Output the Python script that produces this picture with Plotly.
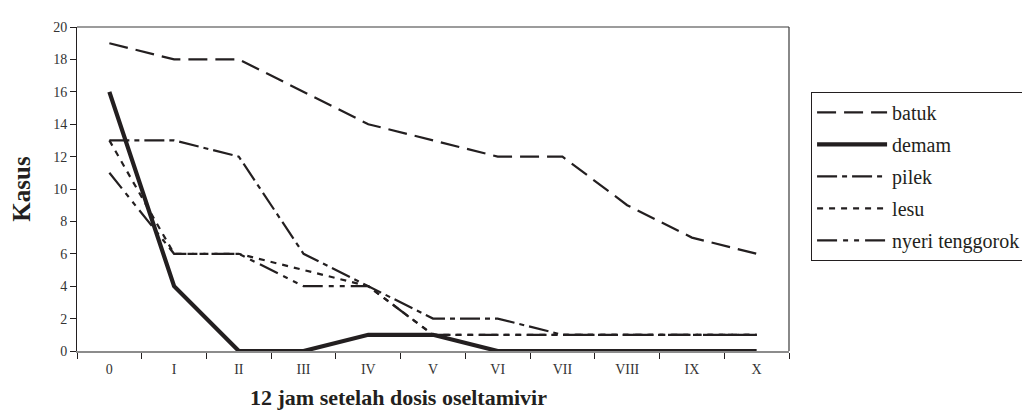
import plotly.graph_objects as go

categories = ["0", "I", "II", "III", "IV", "V", "VI", "VII", "VIII", "IX", "X"]
batuk = [19, 18, 18, 16, 14, 13, 12, 12, 9, 7, 6]
demam = [16, 4, 0, 0, 1, 1, 0, 0, 0, 0, 0]
pilek = [13, 13, 12, 6, 4, 2, 2, 1, 1, 1, 1]
lesu = [13, 6, 6, 5, 4, 1, 1, 1, 1, 1, 1]
nyeri = [11, 6, 6, 4, 4, 1, 1, 1, 1, 1, 1]

INK = "#231f20"
FONT = "Liberation Serif"

series = [
    ("batuk", batuk, dict(width=2.2, dash="19px,8px")),
    ("demam", demam, dict(width=4.2, dash="solid")),
    ("pilek", pilek, dict(width=2.2, dash="20px,5px,5px,5px")),
    ("lesu", lesu, dict(width=2.2, dash="6px,6px")),
    ("nyeri tenggorok", nyeri, dict(width=2.2, dash="20px,6px,5px,6px,5px,6px")),
]

fig = go.Figure()
for name, vals, style in series:
    fig.add_trace(go.Scatter(
        x=categories, y=vals, name=name, mode="lines",
        legendgroup=name,
        line=dict(color=INK, **style),
        hoverinfo="skip",
    ))

fig.update_layout(
    width=1030, height=414,
    margin=dict(l=67, r=248, t=18, b=71),
    paper_bgcolor="white", plot_bgcolor="white",
    font=dict(family=FONT, color=INK, size=14),
    showlegend=True,
    legend=dict(
        x=1.031, xanchor="left", y=0.80, yanchor="top",
        bordercolor=INK, borderwidth=1, bgcolor="white",
        font=dict(family=FONT, size=20, color=INK),
        itemwidth=70, tracegroupgap=3,
    ),
    xaxis=dict(
        type="category", range=[-0.5, 10.5],
        showline=True, linecolor="#8c8c8c", linewidth=1.5,
        ticks="outside", tickson="boundaries", ticklen=6, tickcolor=INK, tickwidth=1,
        showgrid=False, zeroline=False,
        tickfont=dict(family=FONT, size=14, color="#333333"),
        ticklabelstandoff=4,
    ),
    yaxis=dict(
        range=[0, 20], dtick=2,
        showline=True, linecolor=INK, linewidth=1,
        ticks="outside", ticklen=6, tickcolor=INK, tickwidth=1,
        showgrid=False, zeroline=False,
        tickfont=dict(family=FONT, size=14, color="#333333"),
        title=dict(text="<b>Kasus</b>",
                   font=dict(family=FONT, size=25, color=INK), standoff=16),
    ),
    annotations=[
        dict(text="<b>12 jam setelah dosis oseltamivir</b>",
             xref="paper", yref="paper", x=(390 - 67) / 715, y=-(390 - 343) / 325,
             xanchor="center", yanchor="middle", showarrow=False,
             font=dict(family=FONT, size=22, color=INK)),
    ],
    shapes=[
        dict(type="line", xref="paper", yref="paper", x0=0, x1=1, y0=1, y1=1,
             line=dict(color="#3a3a3a", width=1.2)),
        dict(type="line", xref="paper", yref="paper", x0=1, x1=1, y0=0, y1=1,
             line=dict(color="#3a3a3a", width=1.2)),
    ],
)

fig.write_html("out.html")
